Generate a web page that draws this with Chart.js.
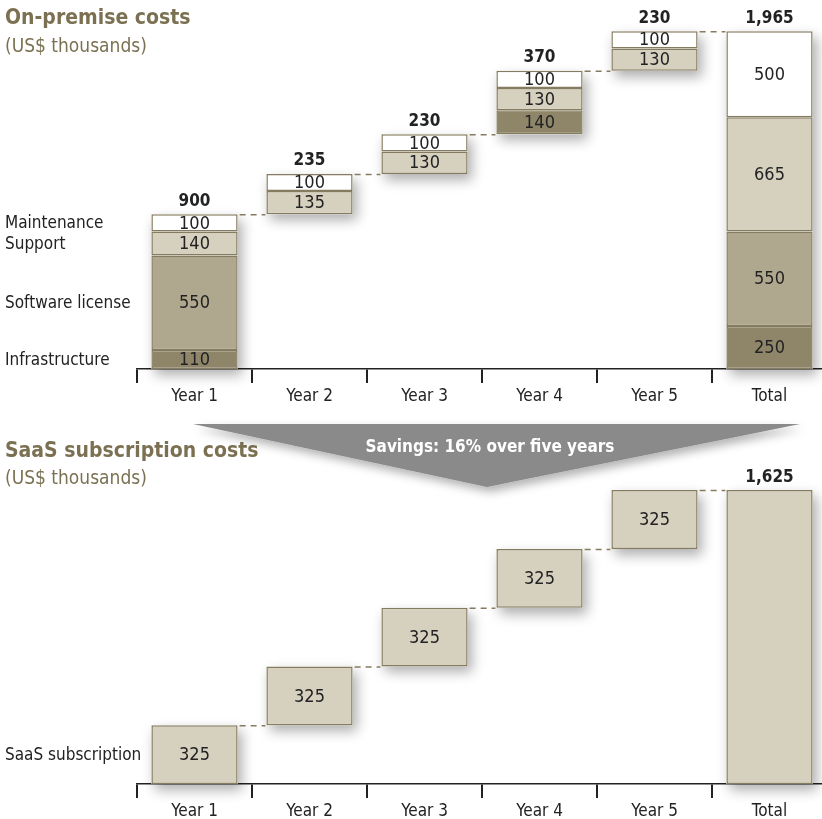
<!DOCTYPE html>
<html>
<head>
<meta charset="utf-8">
<script src="https://cdn.jsdelivr.net/npm/chart.js@4.4.0/dist/chart.umd.min.js"></script>
<style>
  html, body { margin: 0; padding: 0; overflow: hidden; background: #fff; }
  #page { position: relative; width: 822px; height: 819px; overflow: hidden;
          font-family: 'DejaVu Sans Condensed', 'Liberation Sans', sans-serif; }
  canvas { position: absolute; left: 0; }
  .title { position: absolute; left: 5px; color: #7b7152; font-weight: bold; font-size: 21px; }
  .sub { position: absolute; left: 5px; color: #7b7152; font-size: 19px; }
  #arrow { position: absolute; left: 0; top: 0; }
</style>
</head>
<body>
<div id="page">
  <canvas id="onPrem" width="827" height="410" style="top:0"></canvas>
  <canvas id="saas" width="827" height="415" style="top:410px"></canvas>
  <div class="title" style="top:5px">On-premise costs</div>
  <div class="sub" style="top:34px">(US$ thousands)</div>
  <div class="title" style="top:438px">SaaS subscription costs</div>
  <div class="sub" style="top:466px">(US$ thousands)</div>
  <svg id="arrow" width="822" height="819">
    <defs>
      <filter id="sh" x="-10%" y="-30%" width="120%" height="180%">
        <feDropShadow dx="3" dy="5" stdDeviation="5" flood-color="#000" flood-opacity="0.3"/>
      </filter>
    </defs>
    <polygon points="193,424 800,424 487,487" fill="#8a8a8a" filter="url(#sh)"/>
    <text x="490" y="452" text-anchor="middle" fill="#fff" font-weight="bold" font-size="17"
          font-family="'DejaVu Sans Condensed', sans-serif">Savings: 16% over five years</text>
  </svg>
</div>
<script>
const categories = ['Year 1', 'Year 2', 'Year 3', 'Year 4', 'Year 5', 'Total'];

// on-premise segments, bottom to top
const infrastructure = [110, null, null, 140, null, 250];
const softwareLicense = [550, null, null, null, null, 550];
const support = [140, 135, 130, 130, 130, 665];
const maintenance = [100, 100, 100, 100, 100, 500];

// SaaS
const subscription = [325, 325, 325, 325, 325, 1625];

const FONT = "'DejaVu Sans Condensed', 'Liberation Sans', sans-serif";
const EDGE = '#857b5e';

// turn stacked segment lists into floating [from, to] ranges (waterfall)
function waterfall(series) {
    const out = series.map(() => []);
    let running = 0;
    categories.forEach((c, i) => {
        const isTotal = i === categories.length - 1;
        let base = isTotal ? 0 : running;
        series.forEach((s, k) => {
            if (s[i] == null) { out[k].push(null); return; }
            out[k].push([base, base + s[i]]);
            base += s[i];
        });
        if (!isTotal) running = base;
    });
    return out;
}

function fmt(n) { return n.toLocaleString('en-US'); }

const waterfallPlugin = {
    id: 'waterfall',
    beforeDatasetsDraw(chart) {
        const ctx = chart.ctx;
        ctx.save();
        ctx.shadowColor = 'rgba(0,0,0,0.32)';
        ctx.shadowBlur = 12;
        ctx.shadowOffsetX = 4;
        ctx.shadowOffsetY = 6;
        ctx.fillStyle = '#fff';
        categories.forEach((c, i) => {
            let top = Infinity, bottom = -Infinity, x = 0, w = 0;
            chart.data.datasets.forEach((ds, k) => {
                const el = chart.getDatasetMeta(k).data[i];
                if (!el || ds.data[i] == null) return;
                top = Math.min(top, el.y); bottom = Math.max(bottom, el.base);
                x = el.x; w = el.width;
            });
            if (top < bottom) ctx.fillRect(x - w / 2, top, w, bottom - top);
        });
        ctx.restore();
    },
    afterDatasetsDraw(chart, args, opts) {
        const ctx = chart.ctx;
        const n = categories.length;
        const tops = [];
        ctx.save();
        ctx.textAlign = 'center';
        ctx.textBaseline = 'middle';
        ctx.fillStyle = '#222';
        for (let i = 0; i < n; i++) {
            const last = i === n - 1;
            let top = Infinity, x = 0, w = 0, sum = 0;
            chart.data.datasets.forEach((ds, k) => {
                const el = chart.getDatasetMeta(k).data[i];
                const v = ds.data[i];
                if (!el || v == null) return;
                sum += v[1] - v[0];
                top = Math.min(top, el.y); x = el.x; w = el.width;
                if (!(last && opts.plainTotal)) {
                    ctx.font = '18px ' + FONT;
                    ctx.fillText(fmt(v[1] - v[0]), x, (el.y + el.base) / 2 + 1);
                }
            });
            tops.push({ top, x, w });
            if (last || !opts.plainTotal) {
                ctx.font = 'bold 17px ' + FONT;
                ctx.fillText(fmt(sum), x, top - 13);
            }
        }
        // dashed connectors
        ctx.strokeStyle = EDGE;
        ctx.lineWidth = 1.5;
        ctx.setLineDash([6, 5]);
        for (let i = 0; i < n - 1; i++) {
            ctx.beginPath();
            ctx.moveTo(tops[i].x + tops[i].w / 2 + 2, tops[i].top + 0.5);
            ctx.lineTo(tops[i + 1].x - tops[i + 1].w / 2 - 1, tops[i].top + 0.5);
            ctx.stroke();
        }
        ctx.setLineDash([]);
        // series names beside the first bar
        ctx.textAlign = 'left';
        ctx.font = '17px ' + FONT;
        chart.data.datasets.forEach((ds, k) => {
            const el = chart.getDatasetMeta(k).data[0];
            if (!el || ds.data[0] == null) return;
            ctx.fillText(ds.label, 5, (el.y + el.base) / 2 + 1);
        });
        ctx.restore();
    }
};

function makeChart(id, datasets, yMax, padTop, plainTotal) {
    return new Chart(document.getElementById(id), {
        type: 'bar',
        data: { labels: categories, datasets },
        options: {
            responsive: false,
            animation: false,
            layout: { padding: { left: 137, right: 0, top: padTop, bottom: 0 } },
            plugins: { legend: { display: false }, tooltip: { enabled: false },
                       waterfall: { plainTotal } },
            datasets: { bar: { categoryPercentage: 1, barPercentage: 0.75, borderWidth: 1.5,
                               borderColor: EDGE, borderSkipped: false, clip: false } },
            scales: {
                x: {
                    stacked: true,
                    afterFit(scale) { scale.height = 41; },
                    border: { display: true, color: '#222', width: 1.5 },
                    grid: { offset: true, drawOnChartArea: false, drawTicks: true, tickLength: 14,
                            color: '#222', lineWidth: 2 },
                    ticks: { color: '#222', padding: 3, font: { family: FONT, size: 17 } }
                },
                y: { display: false, min: 0, max: yMax }
            }
        },
        plugins: [waterfallPlugin]
    });
}

const onPremRanges = waterfall([infrastructure, softwareLicense, support, maintenance]);
makeChart('onPrem', [
    { label: 'Infrastructure', data: onPremRanges[0], backgroundColor: '#8f866a' },
    { label: 'Software license', data: onPremRanges[1], backgroundColor: '#b0a88e' },
    { label: 'Support', data: onPremRanges[2], backgroundColor: '#d6d0bf' },
    { label: 'Maintenance', data: onPremRanges[3], backgroundColor: '#ffffff' }
], 2100, 8, false);

const saasRanges = waterfall([subscription]);
makeChart('saas', [
    { label: 'SaaS subscription', data: saasRanges[0], backgroundColor: '#d6d0bf' }
], 1880, 34, true);
</script>
</body>
</html>
